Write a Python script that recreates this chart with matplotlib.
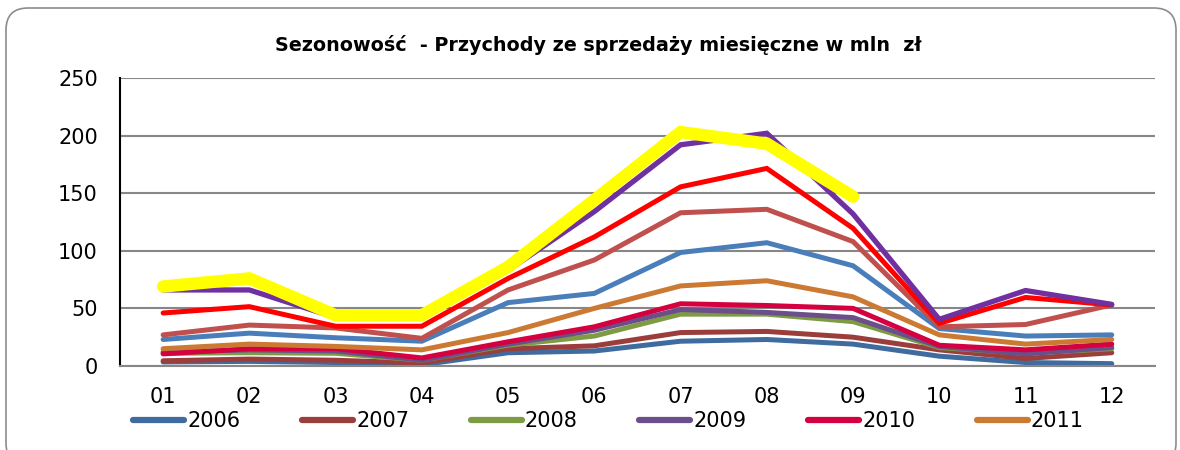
"""
Sezonowość przychodów - wykres liniowy miesięcznych przychodów (mln zł)
"""

import matplotlib
matplotlib.use('Agg')

import matplotlib.pyplot as plt
from matplotlib.patches import FancyBboxPatch
from matplotlib.transforms import IdentityTransform

plt.rcParams['font.family'] = ['DejaVu Sans']

miesiace = ["01", "02", "03", "04", "05", "06", "07", "08", "09", "10", "11", "12"]

# serie z legendy
r2006 = [3.5, 4, 3, 1, 11.5, 13, 21.5, 23, 19, 8.5, 3, 2]
r2007 = [4.5, 6, 5, 2.5, 15, 17.5, 29, 30, 25, 14, 6.5, 11.5]
r2008 = [11, 11.5, 11, 5, 18, 26, 45, 45, 38.5, 16, 11, 15]
r2009 = [12, 14, 13, 5, 19, 31, 49, 46.5, 42, 17, 10.5, 16]
r2010 = [10.5, 15, 15, 7, 21, 34, 54, 52.5, 50, 18, 14, 19]
r2011 = [15, 19, 17, 14, 29, 50, 69.5, 74, 60, 27, 19, 23]
# serie poza legendą
r2012 = [23, 28.5, 24.5, 21.5, 55, 63, 98.5, 107, 87, 32.5, 26, 27]
r2013 = [27, 35.5, 33, 24, 66, 92, 133, 136, 108, 34, 36, 53]
r2014 = [46, 51.5, 34.5, 34.5, 76, 112, 155.5, 171.5, 119.5, 37, 59.5, 53]
r2015 = [66, 66, 42, 42, 83, 134, 192, 202, 132, 40.5, 65.5, 53.5]
r2016 = [69, 76, 44, 44, 86, 144, 203, 193, 147]

serie = [
    ("2006", r2006, "#3F6B9E", 3.6),
    ("2007", r2007, "#9B3D3B", 3.6),
    ("2008", r2008, "#7E9B43", 3.6),
    ("2009", r2009, "#6B4F8A", 3.6),
    ("2010", r2010, "#D4003F", 3.6),
    ("2011", r2011, "#CC7A33", 3.6),
    ("2012", r2012, "#4A7EBB", 3.6),
    ("2013", r2013, "#C0504D", 3.6),
    ("2014", r2014, "#FF0000", 3.6),
    ("2015", r2015, "#7030A0", 3.8),
    ("2016", r2016, "#FFFF00", 9.0),
]

fig = plt.figure(figsize=(11.8, 4.5), dpi=100)
ax = fig.add_axes([0.1017, 0.1867, 0.877, 0.64])

linie = []
for nazwa, wartosci, kolor, lw in serie:
    l, = ax.plot(range(len(wartosci)), wartosci, color=kolor, lw=lw,
                 solid_capstyle='round', solid_joinstyle='miter', label=nazwa)
    linie.append(l)

ax.set_xlim(-0.5, 11.5)
ax.set_ylim(0, 250)
ax.set_yticks(range(0, 251, 50))
ax.set_xticks(range(12))
ax.set_xticklabels(miesiace)
ax.tick_params(axis='both', length=0, labelsize=15)
ax.tick_params(axis='x', pad=15)
ax.tick_params(axis='y', pad=16)

ax.grid(axis='y', color='#878787', lw=1.5)
ax.set_axisbelow(True)
for s in ['top', 'right']:
    ax.spines[s].set_visible(False)
ax.spines['bottom'].set_color('#878787')
ax.spines['bottom'].set_linewidth(1.5)
ax.spines['left'].set_color('black')
ax.spines['left'].set_linewidth(1.5)

fig.text(0.507, 0.9, "Sezonowość  - Przychody ze sprzedaży miesięczne w mln  zł",
         fontsize=13.8, fontweight='bold', ha='center', va='center')

leg = fig.legend(handles=linie[:6], loc='center left', ncol=6,
                 bbox_to_anchor=(0.106, 0.064), frameon=False, fontsize=15,
                 handlelength=2.45, handletextpad=0.15, columnspacing=2.95,
                 borderaxespad=0)
for h in leg.legend_handles:
    h.set_linewidth(4.5)

# ramka wykresu z zaokrąglonymi rogami (w pikselach)
ramka = FancyBboxPatch((6, -15), 1170, 457,
                       boxstyle="round,pad=0,rounding_size=22",
                       transform=IdentityTransform(), fill=False,
                       edgecolor='#8C8C8C', lw=1.2)
fig.patches.append(ramka)

fig.savefig("out.png", dpi=100)
plt.close(fig)
